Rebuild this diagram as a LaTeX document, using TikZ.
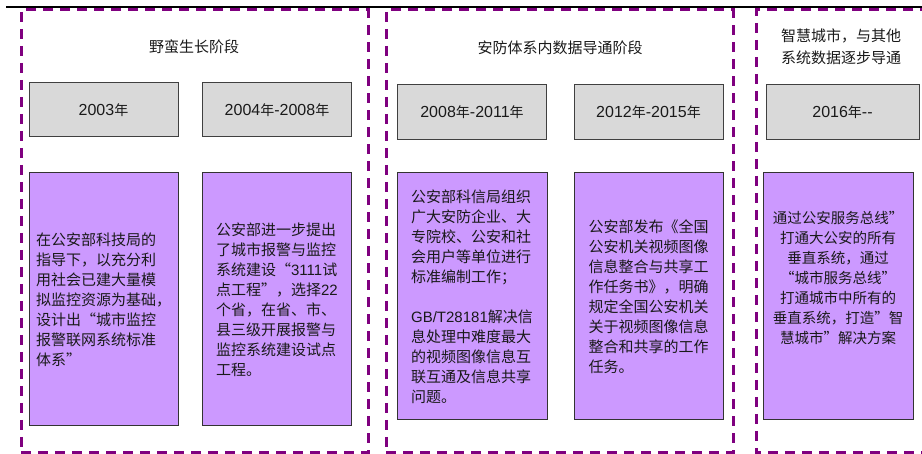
\documentclass[tikz,border=0pt]{standalone}
\usepackage{fontspec}
\setmainfont{Liberation Sans}
\newfontfamily\cjk{Noto Sans CJK SC}
\newfontfamily\cjkfw[RawFeature=+fwid]{Noto Sans CJK SC}
\newfontfamily\latf{Liberation Sans}
\newcommand\lat[1]{{\latf #1}}
\newcommand\myLQ{{\cjkfw “}}
\newcommand\myRQ{{\cjkfw ”}}
\definecolor{framepurple}{HTML}{7F007F}
\definecolor{boxgray}{HTML}{D9D9D9}
\definecolor{boxlilac}{HTML}{CC99FF}
\definecolor{inkc}{HTML}{1A1A1A}
\tikzset{
  frame/.style={draw=framepurple, line width=3pt, dash pattern=on 10pt off 7pt},
  yearbox/.style={draw=black!75, line width=1pt, fill=boxgray, minimum width=149pt, minimum height=54pt, inner sep=0pt, text=inkc, font=\fontsize{16}{18}\selectfont},
  descbox/.style={draw=black!80, line width=1pt, fill=boxlilac, minimum width=149pt, inner sep=0pt},
  desctext/.style={align=left, text=inkc, inner sep=0pt, font=\cjk\fontsize{15}{20}\selectfont},
  desctextc/.style={align=center, text=inkc, inner sep=0pt, font=\cjk\fontsize{14.5}{20}\selectfont},
  titletext/.style={align=center, text=inkc, inner sep=0pt, font=\cjk\fontsize{15}{22}\selectfont},
}
\newcommand\nian{{\cjk\fontsize{14}{16}\selectfont 年}}
\begin{document}
\begin{tikzpicture}[x=1pt,y=-1pt]
\useasboundingbox (0,0) rectangle (922,454);
% top rule
\draw[line width=2pt, black] (6,7) -- (922,7);
% dashed frames
\node[frame, minimum width=347pt, minimum height=443pt, inner sep=0pt] (f1) at (194.5,231.5) {};
\node[frame, minimum width=347pt, minimum height=443pt, inner sep=0pt] (f2) at (559.5,231.5) {};
\draw[frame] (930,10) -- (756,10) -- (756,453) -- (930,453);
% titles
\node[titletext] (h1) at (194,47) {野蛮生长阶段};
\node[titletext] (h2) at (560,48) {安防体系内数据导通阶段};
\node[titletext] (h3) at (841,47) {智慧城市，与其他\\系统数据逐步导通};
% year boxes
\node[yearbox] (y1) at (103.5,110) {\lat{2003}\nian};
\node[yearbox] (y2) at (277,110) {\lat{2004}\nian\lat{-2008}\nian};
\node[yearbox, minimum height=55pt] (y3) at (472,112) {\lat{2008}\nian\lat{-2011}\nian};
\node[yearbox, minimum height=55pt] (y4) at (648.5,112) {\lat{2012}\nian\lat{-2015}\nian};
\node[yearbox, minimum height=55pt, minimum width=153pt] (y5) at (842.5,112) {\lat{2016}\nian\lat{--}};
% description boxes
\node[descbox, minimum height=253pt] (d1) at (103.5,299.5) {};
\node[descbox, minimum height=253pt] (d2) at (277,299.5) {};
\node[descbox, minimum height=247pt, minimum width=150pt] (d3) at (472,296.5) {};
\node[descbox, minimum height=247pt] (d4) at (648.5,296.5) {};
\node[descbox, minimum height=247pt, minimum width=150pt] (d5) at (838,296.5) {};
% texts
\node[desctext] (t1) at (d1.center) {在公安部科技局的\\指导下，以充分利\\用社会已建大量模\\拟监控资源为基础，\\设计出\myLQ 城市监控\\报警联网系统标准\\体系\myRQ};
\node[desctext] (t2) at (d2.center) {公安部进一步提出\\了城市报警与监控\\系统建设\myLQ\lat{3111}试\\点工程\myRQ，选择\lat{22}\\个省，在省、市、\\县三级开展报警与\\监控系统建设试点\\工程。};
\node[desctext] (t3) at (d3.center) {公安部科信局组织\\广大安防企业、大\\专院校、公安和社\\会用户等单位进行\\标准编制工作；\\[20pt]\lat{GB/T28181}解决信\\息处理中难度最大\\的视频图像信息互\\联互通及信息共享\\问题。};
\node[desctext] (t4) at (d4.center) {公安部发布《全国\\公安机关视频图像\\信息整合与共享工\\作任务书》，明确\\规定全国公安机关\\关于视频图像信息\\整合和共享的工作\\任务。};
\node[desctextc] (t5) at ([yshift=19pt]d5.center) {通过公安服务总线\myRQ\\打通大公安的所有\\垂直系统，通过\\\myLQ 城市服务总线\myRQ\\打通城市中所有的\\垂直系统，打造”智\\慧城市”解决方案};
\end{tikzpicture}
\end{document}
